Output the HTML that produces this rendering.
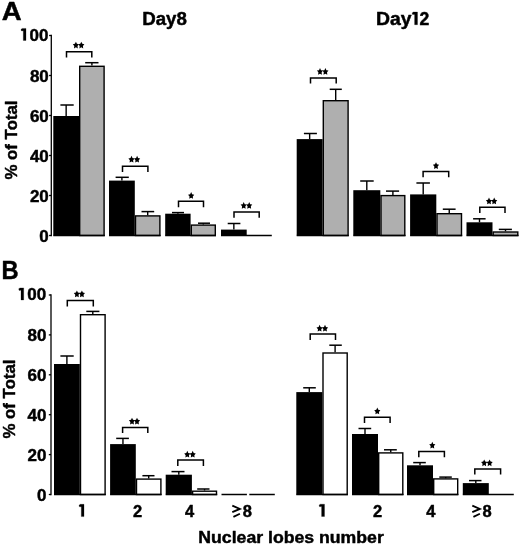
<!DOCTYPE html>
<html><head><meta charset="utf-8"><style>
html,body{margin:0;padding:0;background:#fff;width:520px;height:546px;overflow:hidden}
svg{display:block;filter:grayscale(1)}
.t{font-family:"Liberation Sans",sans-serif;font-weight:bold;fill:#000;stroke:#000;stroke-width:0.45px;stroke-linejoin:round}
</style></head><body>
<svg width="520" height="546" viewBox="0 0 520 546">
<rect width="520" height="546" fill="#fff"/>
<line x1="51.3" y1="34.8" x2="51.3" y2="236.2" stroke="#000" stroke-width="1.3"/>
<line x1="49.099999999999994" y1="35.50" x2="51.3" y2="35.50" stroke="#000" stroke-width="1.3"/>
<text x="48.50" y="40.60" text-anchor="end" class="t" font-size="17">00</text>
<path d="M21.00,29.30 L22.30,28.40 H26.00 V40.50 H23.30 V30.80 L21.40,30.90 Z" fill="#000" stroke="#000" stroke-width="0.25" stroke-linejoin="round"/>
<line x1="49.099999999999994" y1="75.50" x2="51.3" y2="75.50" stroke="#000" stroke-width="1.3"/>
<text x="48.80" y="81.80" text-anchor="end" class="t" font-size="17">80</text>
<line x1="49.099999999999994" y1="115.50" x2="51.3" y2="115.50" stroke="#000" stroke-width="1.3"/>
<text x="48.80" y="121.80" text-anchor="end" class="t" font-size="17">60</text>
<line x1="49.099999999999994" y1="155.50" x2="51.3" y2="155.50" stroke="#000" stroke-width="1.3"/>
<text x="48.80" y="161.80" text-anchor="end" class="t" font-size="17">40</text>
<line x1="49.099999999999994" y1="195.50" x2="51.3" y2="195.50" stroke="#000" stroke-width="1.3"/>
<text x="48.80" y="201.80" text-anchor="end" class="t" font-size="17">20</text>
<line x1="49.099999999999994" y1="235.50" x2="51.3" y2="235.50" stroke="#000" stroke-width="1.3"/>
<text x="48.80" y="241.80" text-anchor="end" class="t" font-size="17">0</text>
<rect x="53.30" y="116.00" width="25.70" height="119.50" fill="#000"/>
<rect x="79.70" y="66.30" width="24.40" height="169.20" fill="#afafaf" stroke="#000" stroke-width="1.4"/>
<line x1="66.15" y1="116.00" x2="66.15" y2="105.00" stroke="#000" stroke-width="1.4"/>
<line x1="60.40" y1="105.00" x2="73.70" y2="105.00" stroke="#000" stroke-width="1.5"/>
<line x1="91.90" y1="65.60" x2="91.90" y2="62.70" stroke="#000" stroke-width="1.4"/>
<line x1="85.20" y1="62.70" x2="98.50" y2="62.70" stroke="#000" stroke-width="1.5"/>
<line x1="53.30" y1="235.50" x2="104.80" y2="235.50" stroke="#000" stroke-width="1.5"/>
<polyline points="66.50,57.40 66.50,51.80 91.80,51.80 91.80,57.40" fill="none" stroke="#000" stroke-width="1.5"/>
<polygon points="75.90,41.66 76.90,43.82 78.99,44.25 77.52,46.00 77.81,48.42 75.90,47.35 73.99,48.42 74.28,46.00 72.81,44.25 74.90,43.82" fill="#000"/>
<polygon points="81.30,41.66 82.30,43.82 84.39,44.25 82.92,46.00 83.21,48.42 81.30,47.35 79.39,48.42 79.68,46.00 78.21,44.25 80.30,43.82" fill="#000"/>
<rect x="109.00" y="180.60" width="25.80" height="54.90" fill="#000"/>
<rect x="135.50" y="215.90" width="24.40" height="19.60" fill="#afafaf" stroke="#000" stroke-width="1.4"/>
<line x1="121.90" y1="180.60" x2="121.90" y2="177.30" stroke="#000" stroke-width="1.4"/>
<line x1="115.60" y1="177.30" x2="128.80" y2="177.30" stroke="#000" stroke-width="1.5"/>
<line x1="147.70" y1="215.20" x2="147.70" y2="211.60" stroke="#000" stroke-width="1.4"/>
<line x1="141.50" y1="211.60" x2="154.20" y2="211.60" stroke="#000" stroke-width="1.5"/>
<line x1="109.00" y1="235.50" x2="160.60" y2="235.50" stroke="#000" stroke-width="1.5"/>
<polyline points="122.50,172.00 122.50,166.20 147.90,166.20 147.90,172.00" fill="none" stroke="#000" stroke-width="1.5"/>
<polygon points="131.50,155.81 132.50,157.97 134.59,158.40 133.12,160.15 133.41,162.57 131.50,161.50 129.59,162.57 129.88,160.15 128.41,158.40 130.50,157.97" fill="#000"/>
<polygon points="137.10,155.81 138.10,157.97 140.19,158.40 138.72,160.15 139.01,162.57 137.10,161.50 135.19,162.57 135.48,160.15 134.01,158.40 136.10,157.97" fill="#000"/>
<rect x="165.20" y="213.70" width="25.40" height="21.80" fill="#000"/>
<rect x="191.30" y="225.10" width="24.00" height="10.40" fill="#afafaf" stroke="#000" stroke-width="1.4"/>
<line x1="177.90" y1="213.70" x2="177.90" y2="212.60" stroke="#000" stroke-width="1.4"/>
<line x1="172.00" y1="212.60" x2="184.00" y2="212.60" stroke="#000" stroke-width="1.5"/>
<line x1="203.30" y1="224.40" x2="203.30" y2="223.20" stroke="#000" stroke-width="1.4"/>
<line x1="198.00" y1="223.20" x2="210.00" y2="223.20" stroke="#000" stroke-width="1.5"/>
<line x1="165.20" y1="235.50" x2="216.00" y2="235.50" stroke="#000" stroke-width="1.5"/>
<polyline points="178.50,207.30 178.50,201.30 203.50,201.30 203.50,207.30" fill="none" stroke="#000" stroke-width="1.5"/>
<polygon points="191.15,192.11 192.15,194.27 194.24,194.70 192.77,196.45 193.06,198.87 191.15,197.81 189.24,198.87 189.53,196.45 188.06,194.70 190.15,194.27" fill="#000"/>
<rect x="221.00" y="229.60" width="25.70" height="5.90" fill="#000"/>
<line x1="233.85" y1="229.60" x2="233.85" y2="223.50" stroke="#000" stroke-width="1.4"/>
<line x1="227.70" y1="223.50" x2="240.40" y2="223.50" stroke="#000" stroke-width="1.5"/>
<line x1="221.00" y1="235.50" x2="271.80" y2="235.50" stroke="#000" stroke-width="1.5"/>
<polyline points="234.00,217.70 234.00,211.90 259.20,211.90 259.20,217.70" fill="none" stroke="#000" stroke-width="1.5"/>
<polygon points="243.70,202.01 244.70,204.17 246.79,204.60 245.32,206.35 245.61,208.77 243.70,207.71 241.79,208.77 242.08,206.35 240.61,204.60 242.70,204.17" fill="#000"/>
<polygon points="249.20,202.01 250.20,204.17 252.29,204.60 250.82,206.35 251.11,208.77 249.20,207.71 247.29,208.77 247.58,206.35 246.11,204.60 248.20,204.17" fill="#000"/>
<rect x="296.70" y="139.10" width="25.90" height="96.40" fill="#000"/>
<rect x="323.30" y="100.70" width="24.80" height="134.80" fill="#afafaf" stroke="#000" stroke-width="1.4"/>
<line x1="309.65" y1="139.10" x2="309.65" y2="133.50" stroke="#000" stroke-width="1.4"/>
<line x1="303.90" y1="133.50" x2="316.90" y2="133.50" stroke="#000" stroke-width="1.5"/>
<line x1="335.70" y1="100.00" x2="335.70" y2="89.30" stroke="#000" stroke-width="1.4"/>
<line x1="329.70" y1="89.30" x2="341.80" y2="89.30" stroke="#000" stroke-width="1.5"/>
<line x1="296.70" y1="235.50" x2="348.80" y2="235.50" stroke="#000" stroke-width="1.5"/>
<polyline points="310.50,83.60 310.50,77.90 336.20,77.90 336.20,83.60" fill="none" stroke="#000" stroke-width="1.5"/>
<polygon points="320.00,68.01 321.00,70.17 323.09,70.60 321.62,72.35 321.91,74.77 320.00,73.70 318.09,74.77 318.38,72.35 316.91,70.60 319.00,70.17" fill="#000"/>
<polygon points="325.40,68.01 326.40,70.17 328.49,70.60 327.02,72.35 327.31,74.77 325.40,73.70 323.49,74.77 323.78,72.35 322.31,70.60 324.40,70.17" fill="#000"/>
<rect x="353.30" y="190.20" width="27.00" height="45.30" fill="#000"/>
<rect x="381.00" y="195.60" width="23.80" height="39.90" fill="#afafaf" stroke="#000" stroke-width="1.4"/>
<line x1="366.80" y1="190.20" x2="366.80" y2="181.00" stroke="#000" stroke-width="1.4"/>
<line x1="360.20" y1="181.00" x2="373.70" y2="181.00" stroke="#000" stroke-width="1.5"/>
<line x1="392.90" y1="194.90" x2="392.90" y2="191.10" stroke="#000" stroke-width="1.4"/>
<line x1="386.00" y1="191.10" x2="399.10" y2="191.10" stroke="#000" stroke-width="1.5"/>
<line x1="353.30" y1="235.50" x2="405.50" y2="235.50" stroke="#000" stroke-width="1.5"/>
<rect x="410.10" y="194.40" width="26.20" height="41.10" fill="#000"/>
<rect x="437.00" y="213.70" width="24.50" height="21.80" fill="#afafaf" stroke="#000" stroke-width="1.4"/>
<line x1="423.20" y1="194.40" x2="423.20" y2="183.00" stroke="#000" stroke-width="1.4"/>
<line x1="416.40" y1="183.00" x2="429.90" y2="183.00" stroke="#000" stroke-width="1.5"/>
<line x1="449.25" y1="213.00" x2="449.25" y2="209.20" stroke="#000" stroke-width="1.4"/>
<line x1="442.80" y1="209.20" x2="455.60" y2="209.20" stroke="#000" stroke-width="1.5"/>
<line x1="410.10" y1="235.50" x2="462.20" y2="235.50" stroke="#000" stroke-width="1.5"/>
<polyline points="423.10,177.30 423.10,171.50 448.70,171.50 448.70,177.30" fill="none" stroke="#000" stroke-width="1.5"/>
<polygon points="436.00,162.21 437.00,164.37 439.09,164.80 437.62,166.55 437.91,168.97 436.00,167.91 434.09,168.97 434.38,166.55 432.91,164.80 435.00,164.37" fill="#000"/>
<rect x="466.50" y="222.30" width="26.00" height="13.20" fill="#000"/>
<rect x="493.20" y="232.00" width="24.60" height="3.50" fill="#afafaf" stroke="#000" stroke-width="1.4"/>
<line x1="479.50" y1="222.30" x2="479.50" y2="218.80" stroke="#000" stroke-width="1.4"/>
<line x1="473.10" y1="218.80" x2="485.60" y2="218.80" stroke="#000" stroke-width="1.5"/>
<line x1="505.50" y1="231.30" x2="505.50" y2="229.40" stroke="#000" stroke-width="1.4"/>
<line x1="498.80" y1="229.40" x2="511.90" y2="229.40" stroke="#000" stroke-width="1.5"/>
<line x1="466.50" y1="235.50" x2="518.50" y2="235.50" stroke="#000" stroke-width="1.5"/>
<polyline points="479.80,213.10 479.80,207.30 505.00,207.30 505.00,213.10" fill="none" stroke="#000" stroke-width="1.5"/>
<polygon points="489.00,197.56 490.00,199.72 492.09,200.15 490.62,201.90 490.91,204.32 489.00,203.25 487.09,204.32 487.38,201.90 485.91,200.15 488.00,199.72" fill="#000"/>
<polygon points="494.20,197.56 495.20,199.72 497.29,200.15 495.82,201.90 496.11,204.32 494.20,203.25 492.29,204.32 492.58,201.90 491.11,200.15 493.20,199.72" fill="#000"/>
<line x1="51.0" y1="294.3" x2="51.0" y2="495.2" stroke="#000" stroke-width="1.3"/>
<line x1="48.8" y1="295.00" x2="51.0" y2="295.00" stroke="#000" stroke-width="1.3"/>
<text x="46.20" y="300.10" text-anchor="end" class="t" font-size="17">00</text>
<path d="M18.70,288.80 L20.00,287.90 H23.70 V300.00 H21.00 V290.30 L19.10,290.40 Z" fill="#000" stroke="#000" stroke-width="0.25" stroke-linejoin="round"/>
<line x1="48.8" y1="334.90" x2="51.0" y2="334.90" stroke="#000" stroke-width="1.3"/>
<text x="46.50" y="341.20" text-anchor="end" class="t" font-size="17">80</text>
<line x1="48.8" y1="374.80" x2="51.0" y2="374.80" stroke="#000" stroke-width="1.3"/>
<text x="46.50" y="381.10" text-anchor="end" class="t" font-size="17">60</text>
<line x1="48.8" y1="414.70" x2="51.0" y2="414.70" stroke="#000" stroke-width="1.3"/>
<text x="46.50" y="421.00" text-anchor="end" class="t" font-size="17">40</text>
<line x1="48.8" y1="454.60" x2="51.0" y2="454.60" stroke="#000" stroke-width="1.3"/>
<text x="46.50" y="460.90" text-anchor="end" class="t" font-size="17">20</text>
<line x1="48.8" y1="494.50" x2="51.0" y2="494.50" stroke="#000" stroke-width="1.3"/>
<text x="46.50" y="500.80" text-anchor="end" class="t" font-size="17">0</text>
<rect x="54.00" y="364.00" width="25.80" height="130.50" fill="#000"/>
<rect x="80.50" y="314.70" width="24.60" height="179.80" fill="#fff" stroke="#000" stroke-width="1.4"/>
<line x1="66.90" y1="364.00" x2="66.90" y2="356.00" stroke="#000" stroke-width="1.4"/>
<line x1="60.40" y1="356.00" x2="73.70" y2="356.00" stroke="#000" stroke-width="1.5"/>
<line x1="92.80" y1="314.00" x2="92.80" y2="311.40" stroke="#000" stroke-width="1.4"/>
<line x1="86.30" y1="311.40" x2="99.40" y2="311.40" stroke="#000" stroke-width="1.5"/>
<line x1="54.00" y1="494.50" x2="105.80" y2="494.50" stroke="#000" stroke-width="1.5"/>
<polyline points="67.30,306.50 67.30,300.50 93.30,300.50 93.30,306.50" fill="none" stroke="#000" stroke-width="1.5"/>
<polygon points="76.90,290.46 77.90,292.62 79.99,293.05 78.52,294.80 78.81,297.22 76.90,296.16 74.99,297.22 75.28,294.80 73.81,293.05 75.90,292.62" fill="#000"/>
<polygon points="81.90,290.46 82.90,292.62 84.99,293.05 83.52,294.80 83.81,297.22 81.90,296.16 79.99,297.22 80.28,294.80 78.81,293.05 80.90,292.62" fill="#000"/>
<rect x="110.10" y="444.10" width="25.70" height="50.40" fill="#000"/>
<rect x="136.50" y="479.10" width="24.40" height="15.40" fill="#fff" stroke="#000" stroke-width="1.4"/>
<line x1="122.95" y1="444.10" x2="122.95" y2="438.40" stroke="#000" stroke-width="1.4"/>
<line x1="116.20" y1="438.40" x2="128.90" y2="438.40" stroke="#000" stroke-width="1.5"/>
<line x1="148.70" y1="478.40" x2="148.70" y2="475.70" stroke="#000" stroke-width="1.4"/>
<line x1="142.40" y1="475.70" x2="154.50" y2="475.70" stroke="#000" stroke-width="1.5"/>
<line x1="110.10" y1="494.50" x2="161.60" y2="494.50" stroke="#000" stroke-width="1.5"/>
<polyline points="122.60,433.00 122.60,427.60 147.80,427.60 147.80,433.00" fill="none" stroke="#000" stroke-width="1.5"/>
<polygon points="132.00,417.71 133.00,419.87 135.09,420.30 133.62,422.05 133.91,424.47 132.00,423.41 130.09,424.47 130.38,422.05 128.91,420.30 131.00,419.87" fill="#000"/>
<polygon points="137.00,417.71 138.00,419.87 140.09,420.30 138.62,422.05 138.91,424.47 137.00,423.41 135.09,424.47 135.38,422.05 133.91,420.30 136.00,419.87" fill="#000"/>
<rect x="165.70" y="474.70" width="26.20" height="19.80" fill="#000"/>
<rect x="192.60" y="491.20" width="23.90" height="3.30" fill="#fff" stroke="#000" stroke-width="1.4"/>
<line x1="178.80" y1="474.70" x2="178.80" y2="471.60" stroke="#000" stroke-width="1.4"/>
<line x1="171.50" y1="471.60" x2="184.50" y2="471.60" stroke="#000" stroke-width="1.5"/>
<line x1="204.55" y1="490.50" x2="204.55" y2="489.00" stroke="#000" stroke-width="1.4"/>
<line x1="197.20" y1="489.00" x2="209.50" y2="489.00" stroke="#000" stroke-width="1.5"/>
<line x1="165.70" y1="494.50" x2="217.20" y2="494.50" stroke="#000" stroke-width="1.5"/>
<polyline points="177.80,466.00 177.80,460.00 203.40,460.00 203.40,466.00" fill="none" stroke="#000" stroke-width="1.5"/>
<polygon points="187.30,450.81 188.30,452.97 190.39,453.40 188.92,455.15 189.21,457.57 187.30,456.50 185.39,457.57 185.68,455.15 184.21,453.40 186.30,452.97" fill="#000"/>
<polygon points="192.70,450.81 193.70,452.97 195.79,453.40 194.32,455.15 194.61,457.57 192.70,456.50 190.79,457.57 191.08,455.15 189.61,453.40 191.70,452.97" fill="#000"/>
<line x1="221.5" y1="494.5" x2="246.9" y2="494.5" stroke="#000" stroke-width="1.5"/>
<line x1="249.3" y1="494.5" x2="274.8" y2="494.5" stroke="#000" stroke-width="1.5"/>
<rect x="296.30" y="392.10" width="26.00" height="102.40" fill="#000"/>
<rect x="323.00" y="353.00" width="24.20" height="141.50" fill="#fff" stroke="#000" stroke-width="1.4"/>
<line x1="309.30" y1="392.10" x2="309.30" y2="387.80" stroke="#000" stroke-width="1.4"/>
<line x1="303.20" y1="387.80" x2="315.80" y2="387.80" stroke="#000" stroke-width="1.5"/>
<line x1="335.10" y1="352.30" x2="335.10" y2="345.20" stroke="#000" stroke-width="1.4"/>
<line x1="329.30" y1="345.20" x2="341.80" y2="345.20" stroke="#000" stroke-width="1.5"/>
<line x1="296.30" y1="494.50" x2="347.90" y2="494.50" stroke="#000" stroke-width="1.5"/>
<polyline points="310.20,339.90 310.20,333.90 335.50,333.90 335.50,339.90" fill="none" stroke="#000" stroke-width="1.5"/>
<polygon points="319.60,324.81 320.60,326.97 322.69,327.40 321.22,329.15 321.51,331.57 319.60,330.50 317.69,331.57 317.98,329.15 316.51,327.40 318.60,326.97" fill="#000"/>
<polygon points="325.00,324.81 326.00,326.97 328.09,327.40 326.62,329.15 326.91,331.57 325.00,330.50 323.09,331.57 323.38,329.15 321.91,327.40 324.00,326.97" fill="#000"/>
<rect x="352.00" y="434.00" width="26.00" height="60.50" fill="#000"/>
<rect x="378.70" y="452.90" width="24.10" height="41.60" fill="#fff" stroke="#000" stroke-width="1.4"/>
<line x1="365.00" y1="434.00" x2="365.00" y2="428.50" stroke="#000" stroke-width="1.4"/>
<line x1="358.50" y1="428.50" x2="371.20" y2="428.50" stroke="#000" stroke-width="1.5"/>
<line x1="390.75" y1="452.20" x2="390.75" y2="449.80" stroke="#000" stroke-width="1.4"/>
<line x1="384.00" y1="449.80" x2="396.80" y2="449.80" stroke="#000" stroke-width="1.5"/>
<line x1="352.00" y1="494.50" x2="403.50" y2="494.50" stroke="#000" stroke-width="1.5"/>
<polyline points="364.50,422.90 364.50,417.20 390.10,417.20 390.10,422.90" fill="none" stroke="#000" stroke-width="1.5"/>
<polygon points="377.30,407.56 378.30,409.72 380.39,410.15 378.92,411.90 379.21,414.32 377.30,413.25 375.39,414.32 375.68,411.90 374.21,410.15 376.30,409.72" fill="#000"/>
<rect x="407.00" y="465.30" width="26.00" height="29.20" fill="#000"/>
<rect x="433.70" y="478.90" width="24.00" height="15.60" fill="#fff" stroke="#000" stroke-width="1.4"/>
<line x1="420.00" y1="465.30" x2="420.00" y2="462.60" stroke="#000" stroke-width="1.4"/>
<line x1="413.20" y1="462.60" x2="425.80" y2="462.60" stroke="#000" stroke-width="1.5"/>
<line x1="445.70" y1="478.20" x2="445.70" y2="477.10" stroke="#000" stroke-width="1.4"/>
<line x1="439.30" y1="477.10" x2="451.80" y2="477.10" stroke="#000" stroke-width="1.5"/>
<line x1="407.00" y1="494.50" x2="458.40" y2="494.50" stroke="#000" stroke-width="1.5"/>
<polyline points="418.80,457.20 418.80,451.50 444.40,451.50 444.40,457.20" fill="none" stroke="#000" stroke-width="1.5"/>
<polygon points="432.30,441.76 433.30,443.92 435.39,444.35 433.92,446.10 434.21,448.52 432.30,447.45 430.39,448.52 430.68,446.10 429.21,444.35 431.30,443.92" fill="#000"/>
<rect x="462.80" y="483.10" width="26.00" height="11.40" fill="#000"/>
<line x1="475.80" y1="483.10" x2="475.80" y2="480.60" stroke="#000" stroke-width="1.4"/>
<line x1="469.00" y1="480.60" x2="481.50" y2="480.60" stroke="#000" stroke-width="1.5"/>
<line x1="462.80" y1="494.50" x2="513.80" y2="494.50" stroke="#000" stroke-width="1.5"/>
<polyline points="474.80,474.40 474.80,469.00 500.60,469.00 500.60,474.40" fill="none" stroke="#000" stroke-width="1.5"/>
<polygon points="484.20,459.41 485.20,461.57 487.29,462.00 485.82,463.75 486.11,466.17 484.20,465.11 482.29,466.17 482.58,463.75 481.11,462.00 483.20,461.57" fill="#000"/>
<polygon points="489.60,459.41 490.60,461.57 492.69,462.00 491.22,463.75 491.51,466.17 489.60,465.11 487.69,466.17 487.98,463.75 486.51,462.00 488.60,461.57" fill="#000"/>
<text transform="translate(1.7,19.8) scale(1.08,1)" class="t" font-size="25.5">A</text>
<text transform="translate(1.6,278.8) scale(0.93,1)" class="t" font-size="25.5">B</text>
<text x="142.2" y="25.0" class="t" font-size="17.6" textLength="44.6" lengthAdjust="spacingAndGlyphs">Day8</text>
<text x="376.0" y="24.8" class="t" font-size="17.6" textLength="35.5" lengthAdjust="spacingAndGlyphs">Day</text>
<path d="M412.10,12.90 L413.40,12.00 H417.50 V24.70 H414.60 V14.40 L412.50,14.50 Z" fill="#000" stroke="#000" stroke-width="0.25" stroke-linejoin="round"/>
<text x="419.4" y="24.8" class="t" font-size="17.6">2</text>
<text transform="translate(17.3,140) rotate(-90)" text-anchor="middle" class="t" font-size="17.4" textLength="79" lengthAdjust="spacingAndGlyphs">% of Total</text>
<text transform="translate(15,399) rotate(-90)" text-anchor="middle" class="t" font-size="17.4" textLength="79" lengthAdjust="spacingAndGlyphs">% of Total</text>
<path d="M79.00,505.20 L80.30,504.30 H84.00 V516.60 H81.30 V506.70 L79.40,506.80 Z" fill="#000" stroke="#000" stroke-width="0.25" stroke-linejoin="round"/>
<path d="M319.10,505.10 L320.40,504.20 H324.50 V516.50 H321.60 V506.60 L319.50,506.70 Z" fill="#000" stroke="#000" stroke-width="0.25" stroke-linejoin="round"/>
<text x="137.6" y="516.5" text-anchor="middle" class="t" font-size="16.5">2</text>
<text x="189.5" y="516.5" text-anchor="middle" class="t" font-size="16.5">4</text>
<text x="377.7" y="516.5" text-anchor="middle" class="t" font-size="16.5">2</text>
<text x="430.8" y="516.5" text-anchor="middle" class="t" font-size="16.5">4</text>
<text x="251.9" y="516.5" text-anchor="end" class="t" font-size="16.5">8</text>
<path d="M232.3,505.6 L239.9,508.9 L232.3,512.2 M233.4,516.9 L239.9,513.7" fill="none" stroke="#000" stroke-width="1.8" stroke-linejoin="miter"/>
<text x="491.70000000000005" y="516.5" text-anchor="end" class="t" font-size="16.5">8</text>
<path d="M472.3,505.6 L479.9,508.9 L472.3,512.2 M473.4,516.9 L479.9,513.7" fill="none" stroke="#000" stroke-width="1.8" stroke-linejoin="miter"/>
<text x="198.3" y="543.2" class="t" font-size="16.8" textLength="185.5" lengthAdjust="spacingAndGlyphs">Nuclear lobes number</text>
</svg>
</body></html>
